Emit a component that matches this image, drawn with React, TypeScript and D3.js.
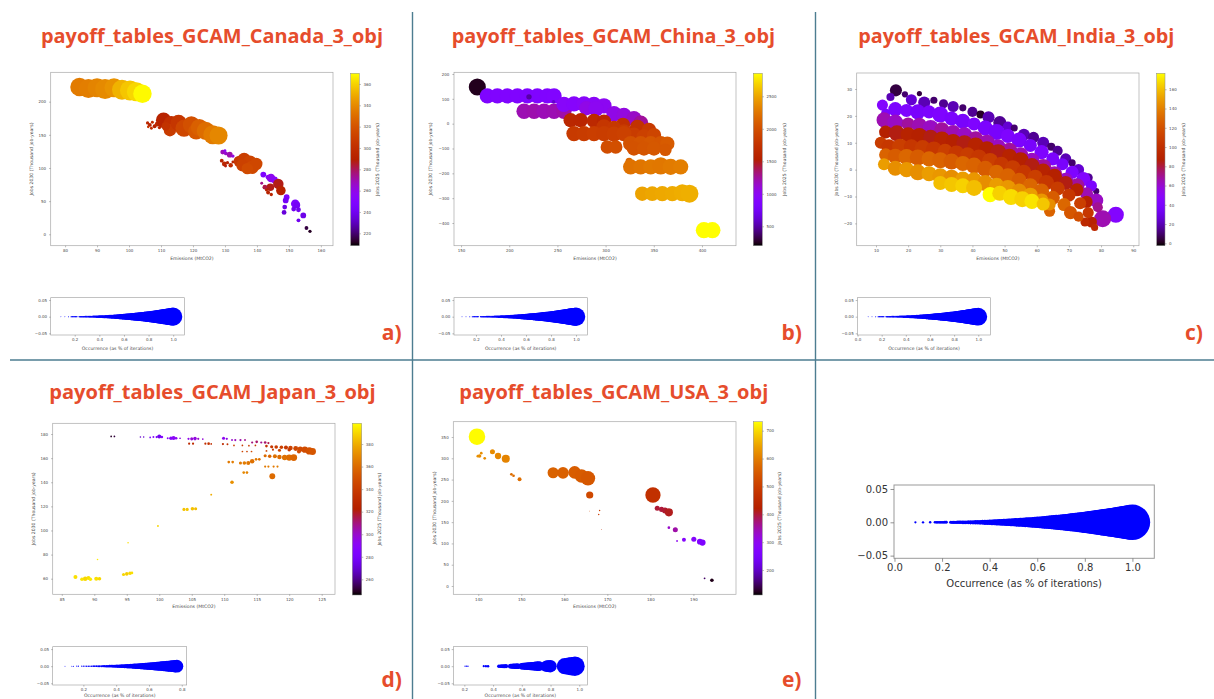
import React, { useEffect, useRef } from "react";
import * as d3 from "d3";

type Pt = [number, number, number, number]; // emissions, jobs2030, jobs2025, occurrence

const CANADA: Pt[] = [
  [84.5, 222, 335, 0.92], [87.3, 220, 336, 0.95], [90, 221, 338, 0.95], [92.5, 219, 340, 1.0],
  [95.3, 221, 343, 0.95], [97.8, 218, 352, 1.0], [100.3, 217, 357, 1.0], [102.3, 215, 361, 0.95],
  [104.2, 212, 369, 0.92],
  [105.8, 168, 295, 0.12], [106.5, 165, 292, 0.15], [107.3, 169, 298, 0.1], [108, 163, 290, 0.15],
  [108.8, 166, 296, 0.2], [107, 160, 300, 0.1], [109.5, 161, 293, 0.12], [106, 162, 305, 0.08],
  [110.8, 172, 292, 0.75], [113.2, 166, 300, 0.8], [112.8, 157, 308, 0.6], [115.5, 168, 305, 0.8],
  [117.2, 160, 314, 0.85], [119.5, 165, 318, 0.85], [121, 155, 322, 0.8], [122, 161, 325, 0.85],
  [124, 156, 330, 0.9], [126.2, 150, 335, 0.95], [128, 149, 339, 0.9], [111.5, 163, 302, 0.4],
  [129.3, 124, 268, 0.2], [130.3, 122, 265, 0.15], [131.5, 120, 270, 0.25], [132.5, 118, 262, 0.12],
  [130, 126, 258, 0.1], [129, 111, 292, 0.15], [129.8, 106, 295, 0.2], [130.8, 108, 290, 0.12],
  [131.8, 104, 298, 0.18], [132.5, 109, 292, 0.1], [130.2, 103, 288, 0.1],
  [134.5, 110, 306, 0.55], [136, 113, 309, 0.65], [137.8, 108, 312, 0.7], [135.5, 104, 311, 0.6],
  [138.5, 101, 315, 0.65], [139.8, 106, 314, 0.6], [137, 99, 316, 0.55],
  [142, 90, 248, 0.25], [143.5, 86, 252, 0.2], [144.4, 85, 258, 0.4], [145.5, 82, 255, 0.3],
  [146.7, 76, 287, 0.5], [147.5, 66, 292, 0.45], [144.2, 71, 287, 0.35], [142.5, 71, 282, 0.2],
  [143.5, 63, 292, 0.15], [144.5, 60, 294, 0.12], [141.5, 77, 275, 0.1], [143, 67, 290, 0.12],
  [149.3, 56, 247, 0.25], [149, 51, 242, 0.25], [152, 46, 246, 0.4], [152.5, 44, 242, 0.3],
  [148.7, 41, 238, 0.2], [151.5, 38, 240, 0.2], [153, 37, 240, 0.2], [148.5, 33, 235, 0.2],
  [154.5, 28.5, 238, 0.25], [153, 21, 240, 0.15], [155.5, 9.5, 215, 0.15], [156.6, 4.5, 212, 0.12],
];

const CHINA: Pt[] = [
  [166.9, 147.8, 250, 0.95],
  [177.3, 111.6, 860, 0.85], [187.7, 111.6, 870, 0.85], [198.1, 111.6, 865, 0.85], [208.5, 111.6, 870, 0.85],
  [218.8, 111.6, 860, 0.85], [229.2, 111.6, 875, 0.85], [239.5, 111.6, 870, 0.85], [246.5, 111.6, 880, 0.85],
  [215.4, 50, 1200, 0.85], [225.8, 50, 1210, 0.85], [236.1, 50, 1190, 0.85], [246.5, 50, 1200, 0.85],
  [256.8, 50, 1220, 0.85],
  [256.8, 78, 950, 0.85], [267.2, 80, 930, 0.85], [277.6, 80, 960, 0.85], [287.9, 78, 980, 0.85],
  [298.3, 72, 1000, 0.85], [280, 62, 1050, 0.8], [290, 60, 1000, 0.85],
  [308.7, 40, 1050, 0.85], [319, 33, 1080, 0.85], [329.4, 20, 1150, 0.85], [336.4, 2, 1250, 0.85],
  [220.5, 108, 500, 0.3], [246, 88, 600, 0.2],
  [263.8, 13.6, 1620, 0.8], [274.2, 13.6, 1610, 0.8], [288, 11, 1640, 0.8], [298.3, 8, 1600, 0.8],
  [318, -5, 1720, 0.8], [298.3, -13, 1780, 0.85], [308.7, -19.5, 1800, 0.85], [333, -15, 1740, 0.85],
  [319, -33, 1820, 0.85], [345, -25, 1820, 0.8], [329.4, -46, 1840, 0.85], [339.8, -53, 1880, 0.85],
  [350.2, -46, 1920, 0.8],
  [267.2, -40, 1820, 0.85], [277.6, -40, 1840, 0.85], [288, -40, 1860, 0.85], [298.3, -40, 1850, 0.85],
  [308.7, -42, 1870, 0.85], [319, -40, 1880, 0.85],
  [326, -80.5, 2020, 0.85], [336.4, -80.5, 2040, 0.85], [346.8, -80.5, 2060, 0.85], [357.2, -80.5, 2050, 0.85],
  [364, -80.5, 2080, 0.8],
  [301.8, -94, 1980, 0.75], [310.5, -94, 2000, 0.75],
  [329.4, -100, 2020, 0.8], [339.8, -100, 2040, 0.8], [350.2, -100, 2060, 0.8], [362, -105, 2060, 0.7],
  [324.4, -152, 2150, 0.4], [326, -174, 2230, 0.85], [336.4, -174, 2250, 0.85], [346.8, -174, 2270, 0.85],
  [357.2, -170, 2260, 0.95], [367.5, -174, 2280, 0.9], [377.9, -174, 2300, 0.85],
  [338, -282, 2480, 0.8], [348.4, -282, 2500, 0.82], [358.8, -282, 2510, 0.85], [369.2, -282, 2520, 0.85],
  [379.6, -278, 2530, 0.95], [387, -282, 2540, 1.0],
  [402, -429, 2850, 0.9], [410.8, -429, 2850, 0.9],
];

const INDIA: Pt[] = [
  [16.2, 29.5, 5, 0.55], [14.5, 27, 20, 0.35], [19, 28, 10, 0.25], [23.5, 28.3, 5, 0.2], [21, 26, 25, 0.5],
  [25, 25, 20, 0.55], [28, 25.8, 10, 0.3], [31, 24.5, 15, 0.4], [34, 23.5, 20, 0.5], [37, 23, 10, 0.3],
  [40, 21.5, 15, 0.45], [42.5, 20.5, 2, 0.35], [45, 19.5, 20, 0.55], [48.5, 17.5, 15, 0.6], [51, 16, 25, 0.45],
  [53, 15.5, 10, 0.3], [56, 13, 20, 0.55], [59, 12, 15, 0.5], [62, 10, 20, 0.55], [64.5, 8.5, 10, 0.35],
  [66.5, 7, 15, 0.45], [69, 4, 20, 0.5], [71, 2.5, 10, 0.3], [73, 0, 25, 0.5], [76, -3, 15, 0.4],
  [78.5, -8, 10, 0.25],
  [12, 24, 45, 0.5], [13, 21, 40, 0.4], [16, 22.5, 40, 0.65], [19.5, 22, 42, 0.6], [23, 21.5, 38, 0.7],
  [26.5, 21.5, 40, 0.6], [30, 20.5, 42, 0.75], [33.5, 19, 40, 0.65], [37, 18, 38, 0.7], [40.5, 17, 42, 0.6],
  [44, 15.5, 40, 0.7], [47.5, 14, 38, 0.75], [51, 12.5, 42, 0.65], [54.5, 11, 40, 0.7], [58, 9, 38, 0.6],
  [61.5, 6.5, 42, 0.65], [65, 4, 40, 0.6], [68, 2, 38, 0.55], [71, -1, 42, 0.6], [74.5, -3.5, 45, 0.65],
  [77, -6, 40, 0.5], [84.6, -16.8, 45, 0.75],
  [12.5, 18.5, 65, 0.7], [16, 17.5, 62, 0.75], [20, 17, 68, 0.6], [23.5, 16.5, 65, 0.7], [27, 15.5, 62, 0.75],
  [30.5, 14.8, 68, 0.7], [34, 13.8, 65, 0.7], [37.5, 12.8, 62, 0.75], [41, 11.5, 68, 0.7], [44.5, 10, 65, 0.75],
  [48, 8.5, 62, 0.7], [51.5, 7, 68, 0.75], [55, 5.5, 65, 0.7], [58.5, 3.5, 62, 0.7], [62, 1, 68, 0.75],
  [65.5, -1.5, 65, 0.7], [69, -4, 62, 0.7], [72.5, -6, 68, 0.7], [75.5, -9, 65, 0.6], [78.5, -11.5, 62, 0.65],
  [80.5, -18.3, 65, 0.8], [79, -14, 70, 0.45],
  [13, 14, 88, 0.6], [16.5, 13.5, 85, 0.75], [20, 13, 90, 0.7], [23.5, 12.5, 88, 0.75], [27, 12, 85, 0.7],
  [30.5, 11.2, 90, 0.75], [34, 10.5, 88, 0.7], [37.5, 9.8, 85, 0.75], [41, 9, 90, 0.75], [44.5, 7.8, 88, 0.7],
  [48, 6.5, 85, 0.75], [51.5, 5, 90, 0.7], [55, 3.5, 88, 0.75], [58.5, 1.5, 85, 0.7], [62, -0.5, 90, 0.7],
  [65.5, -2.5, 88, 0.7], [69, -5, 85, 0.65], [72.5, -7.5, 90, 0.6], [75.5, -12, 88, 0.55], [77, -19.5, 90, 0.5],
  [78, -21.5, 95, 0.3],
  [11.5, 10, 108, 0.55], [14, 8.5, 105, 0.7], [17.5, 8.5, 110, 0.75], [21, 8.5, 105, 0.7], [24.5, 8, 108, 0.75],
  [28, 7.5, 105, 0.75], [31.5, 6.8, 110, 0.7], [35, 6, 105, 0.75], [38.5, 5.5, 108, 0.7], [42, 4.5, 105, 0.75],
  [45.5, 3.2, 110, 0.75], [49, 2, 105, 0.7], [52.5, 0.5, 108, 0.75], [56, -1, 105, 0.7], [59.5, -2.8, 110, 0.7],
  [63, -4.8, 105, 0.7], [66.5, -7, 108, 0.65], [70, -9.5, 105, 0.6], [73.5, -12.5, 110, 0.55], [76, -16, 105, 0.5],
  [75, -19.5, 95, 0.4],
  [13, 5.5, 128, 0.6], [16, 5, 125, 0.7], [19.5, 4.7, 130, 0.75], [23, 4.5, 125, 0.75], [26.5, 4, 130, 0.7],
  [30, 3.5, 128, 0.75], [33.5, 3, 125, 0.75], [37, 2.3, 130, 0.7], [40.5, 1.5, 128, 0.75], [44, 0.3, 125, 0.75],
  [47.5, -1, 130, 0.7], [51, -2.5, 128, 0.75], [54.5, -4, 125, 0.7], [58, -6, 130, 0.7], [61.5, -8, 128, 0.7],
  [65, -10.5, 125, 0.65], [68.5, -13, 130, 0.6], [70.5, -16, 122, 0.6], [73, -17.5, 118, 0.45], [64, -15.5, 128, 0.5],
  [12.5, 2, 150, 0.55], [16, 0.5, 145, 0.7], [19.5, 0, 148, 0.7], [23, -1, 145, 0.75], [26.5, -1.5, 150, 0.7],
  [30, -2.5, 148, 0.75], [33.5, -3, 145, 0.75], [37, -3.5, 150, 0.7], [40.5, -4, 148, 0.75], [44, -5, 145, 0.75],
  [47.5, -5.8, 150, 0.7], [51, -6.8, 148, 0.75], [54.5, -8, 145, 0.7], [58, -9.5, 150, 0.7], [61.5, -11.5, 148, 0.65],
  [64, -13, 145, 0.55],
  [30, -5, 160, 0.65], [33.5, -5.5, 162, 0.7], [37, -6, 165, 0.7], [40.5, -6.8, 160, 0.75], [45.5, -9.3, 178, 0.7],
  [48.5, -8.8, 165, 0.7], [52, -10.2, 168, 0.75], [55.5, -11, 165, 0.75], [58.5, -11.8, 170, 0.7], [62, -12.8, 162, 0.6],
];

const JAPAN: Pt[] = [
  [92.6, 178, 250, 0.1], [93.1, 178, 252, 0.1], [97.1, 177.5, 268, 0.08], [97.6, 177.5, 270, 0.08],
  [98.6, 177.2, 282, 0.1], [99.1, 177.5, 285, 0.12], [99.6, 177.5, 280, 0.15], [100, 178, 275, 0.35],
  [100.4, 177.5, 285, 0.2], [101.3, 176.5, 290, 0.12], [101.8, 176.5, 288, 0.3], [102.2, 176.8, 290, 0.35],
  [102.6, 176.5, 292, 0.2], [103.2, 176.5, 295, 0.1], [104.5, 176, 294, 0.15], [105, 176, 298, 0.25],
  [105.5, 176.2, 296, 0.3], [106, 176, 300, 0.15], [106.7, 175.8, 298, 0.1],
  [104.6, 172, 328, 0.15], [105.2, 172, 330, 0.15], [107.1, 172, 333, 0.15], [107.6, 172, 335, 0.2],
  [108, 171.8, 332, 0.1], [109.9, 176.5, 292, 0.25], [110.4, 176, 295, 0.15], [111.2, 175, 300, 0.12],
  [111.7, 175, 302, 0.15], [112.5, 175, 305, 0.15], [113.2, 175, 308, 0.12], [114.3, 173, 310, 0.15],
  [115, 173.5, 312, 0.2], [115.7, 173, 308, 0.15], [116.3, 173, 312, 0.2], [116.8, 172.5, 315, 0.15],
  [109.8, 171.7, 330, 0.15], [110.5, 171.5, 332, 0.12], [111.5, 170.5, 340, 0.1], [112.8, 170.5, 340, 0.1],
  [113.8, 170.3, 342, 0.1], [114.8, 170.5, 338, 0.1],
  [116.5, 170, 335, 0.2], [117.3, 169.5, 338, 0.25], [118, 169.3, 340, 0.3], [118.8, 169, 342, 0.3],
  [119.5, 168.8, 338, 0.35], [120.2, 168.5, 343, 0.4], [121, 168, 345, 0.45], [121.7, 167.5, 347, 0.5],
  [122.4, 167, 348, 0.6], [123.1, 166, 350, 0.7], [123.6, 165.5, 352, 0.65], [120, 167, 338, 0.3],
  [117.5, 167, 340, 0.15], [116.5, 166, 345, 0.12], [118.5, 166.5, 344, 0.25], [121.5, 165.5, 348, 0.35],
  [116.3, 162, 360, 0.25], [117, 161.5, 358, 0.3], [117.8, 161.5, 362, 0.35], [118.5, 161, 360, 0.4],
  [119.3, 160.5, 362, 0.5], [120, 160.5, 360, 0.6], [120.7, 160.5, 358, 0.65],
  [112.8, 165.5, 345, 0.1], [113.5, 165.5, 342, 0.1], [114.2, 165.5, 348, 0.1],
  [110.7, 156.7, 365, 0.2], [111.3, 156.7, 366, 0.2], [112.5, 156, 365, 0.25], [113.1, 156, 366, 0.3],
  [113.7, 156, 364, 0.35], [114.3, 157.5, 362, 0.4], [114.9, 159, 365, 0.2], [115.4, 159, 362, 0.2],
  [116.3, 153, 365, 0.15], [116.8, 153, 366, 0.15], [117.6, 153, 365, 0.15], [118.2, 153, 366, 0.15],
  [113, 148, 370, 0.2], [113.5, 148, 368, 0.2], [117.4, 145, 360, 0.55], [111.2, 140, 372, 0.3],
  [108, 129.7, 380, 0.12], [103.8, 117.5, 385, 0.25], [104.3, 117.5, 386, 0.25], [105.1, 118, 385, 0.3],
  [105.6, 118, 384, 0.25], [99.8, 103.7, 390, 0.12], [95.2, 89.8, 392, 0.08], [90.5, 76, 395, 0.08],
  [94.5, 63.5, 390, 0.25], [95, 64, 388, 0.3], [95.5, 64.5, 390, 0.3], [95.8, 64.8, 392, 0.2],
  [87.1, 61.4, 392, 0.35], [88.1, 59.5, 393, 0.3], [88.6, 60, 390, 0.4], [89.1, 60.5, 392, 0.35],
  [89.4, 59.5, 394, 0.3], [90.3, 60, 392, 0.35], [90.8, 60, 390, 0.3],
];

const USA: Pt[] = [
  [139.7, 350.7, 730, 0.92],
  [140.3, 305.4, 620, 0.2], [140.7, 312, 622, 0.15], [141.5, 300, 618, 0.15], [139.9, 305, 625, 0.15],
  [143.3, 315.5, 620, 0.28], [144.6, 305.4, 615, 0.35], [146.4, 299, 608, 0.45],
  [147.7, 262.4, 580, 0.15], [148.2, 259, 578, 0.15], [149.6, 250.6, 580, 0.22],
  [157.4, 266, 562, 0.62], [159.7, 266, 560, 0.65], [162.4, 267, 555, 0.7], [164, 258.4, 552, 0.75],
  [165.5, 253, 545, 0.8], [165.9, 213.8, 520, 0.4],
  [165.9, 176, 520, 0.05], [168.2, 177.5, 500, 0.08], [168, 168, 495, 0.08], [168.6, 133, 450, 0.05],
  [180.6, 213.8, 468, 0.85],
  [181.6, 182.5, 400, 0.28], [182.6, 180, 398, 0.28], [183.4, 177.5, 402, 0.33], [184.3, 173, 410, 0.45],
  [184.3, 137, 330, 0.15], [185.8, 132.3, 350, 0.28], [186.2, 105.7, 300, 0.1], [187.8, 108.8, 280, 0.22],
  [190.1, 109.6, 280, 0.28], [191.5, 104, 268, 0.32], [192.1, 102, 265, 0.35],
  [192.6, 18, 150, 0.1], [194.3, 13.4, 120, 0.2],
];

const OCC_MAIN = [
  0.088, 0.12, 0.15, 0.17, 0.176, 0.182, 0.188, 0.194, 0.2, 0.206, 0.212, 0.218, 0.236, 0.242, 0.248,
  0.254, 0.26, 0.266, 0.272, 0.278, 0.285, 0.292, 0.3, 0.31, 0.32, 0.33, 0.34, 0.35, 0.36, 0.37, 0.38,
  0.39, 0.4, 0.41, 0.42, 0.43, 0.44, 0.45, 0.46, 0.47, 0.48, 0.49, 0.5, 0.51, 0.52, 0.53, 0.54, 0.55,
  0.56, 0.57, 0.58, 0.59, 0.6, 0.61, 0.62, 0.63, 0.64, 0.65, 0.66, 0.67, 0.68, 0.69, 0.7, 0.71, 0.72,
  0.73, 0.74, 0.75, 0.76, 0.77, 0.78, 0.79, 0.8, 0.81, 0.82, 0.83, 0.84, 0.85, 0.86, 0.87, 0.88, 0.89,
  0.9, 0.91, 0.92, 0.93, 0.94, 0.95, 0.96, 0.97, 0.98, 0.99, 1.0,
];
const OCC_JAPAN = [
  0.088, 0.13, 0.14, 0.16, 0.17, 0.19, 0.2, 0.21, 0.22, 0.23, 0.24, 0.25, 0.26, 0.27, 0.28, 0.29, 0.3,
  0.31, 0.32, 0.33, 0.34, 0.35, 0.36, 0.37, 0.38, 0.39, 0.4, 0.41, 0.42, 0.43, 0.44, 0.45, 0.46, 0.47,
  0.48, 0.49, 0.5, 0.51, 0.52, 0.53, 0.54, 0.55, 0.56, 0.57, 0.58, 0.59, 0.6, 0.61, 0.62, 0.63, 0.64,
  0.65, 0.66, 0.67, 0.68, 0.69, 0.7, 0.71, 0.72, 0.73, 0.74, 0.75, 0.76, 0.77,
];
const OCC_USA = [
  0.205, 0.215, 0.225, 0.335, 0.35, 0.365, 0.44, 0.45, 0.46, 0.47, 0.48, 0.49, 0.52, 0.53, 0.54, 0.55,
  0.56, 0.57, 0.6, 0.61, 0.62, 0.63, 0.64, 0.65, 0.66, 0.67, 0.68, 0.69, 0.7, 0.71, 0.72, 0.77, 0.78,
  0.79, 0.8, 0.9, 0.93, 0.95, 0.97,
];

const TITLES = [
  "payoff_tables_GCAM_Canada_3_obj", "payoff_tables_GCAM_China_3_obj", "payoff_tables_GCAM_India_3_obj",
  "payoff_tables_GCAM_Japan_3_obj", "payoff_tables_GCAM_USA_3_obj",
];
const PANEL_LABELS = ["a)", "b)", "c)", "d)", "e)"];

const X_TICKS_CANADA = [80, 90, 100, 110, 120, 130, 140, 150, 160];
const Y_TICKS_CANADA = [0, 50, 100, 150, 200];
const C_TICKS_CANADA = [220, 240, 260, 280, 300, 320, 340, 360];
const X_TICKS_CHINA = [150, 200, 250, 300, 350, 400];
const Y_TICKS_CHINA = [-400, -300, -200, -100, 0, 100, 200];
const C_TICKS_CHINA = [500, 1000, 1500, 2000, 2500];
const X_TICKS_INDIA = [10, 20, 30, 40, 50, 60, 70, 80, 90];
const Y_TICKS_INDIA = [-20, -10, 0, 10, 20, 30];
const C_TICKS_INDIA = [0, 20, 40, 60, 80, 100, 120, 140, 160];
const X_TICKS_JAPAN = [85, 90, 95, 100, 105, 110, 115, 120, 125];
const Y_TICKS_JAPAN = [60, 80, 100, 120, 140, 160, 180];
const C_TICKS_JAPAN = [260, 280, 300, 320, 340, 360, 380];
const X_TICKS_USA = [140, 150, 160, 170, 180, 190];
const Y_TICKS_USA = [0, 50, 100, 150, 200, 250, 300, 350];
const C_TICKS_USA = [200, 300, 400, 500, 600, 700];
const OCC_TICKS_FULL = [0.0, 0.2, 0.4, 0.6, 0.8, 1.0];
const OCC_TICKS = [0.2, 0.4, 0.6, 0.8, 1.0];
const OCC_TICKS_JAPAN = [0.2, 0.4, 0.6, 0.8];
const OCC_Y_TICKS = [-0.05, 0.0, 0.05];

const X_LABEL = "Emissions (MtCO2)";
const Y_LABEL = "Jobs 2030 (Thousand job-years)";
const C_LABEL = "Jobs 2025 (Thousand job-years)";
const OCC_LABEL = "Occurrence (as % of iterations)";

const RED = "#e64d2c";
const SEP = "#4d7d90";
const TICK_FONT = "DejaVu Sans, sans-serif";

function gnuplot(t: number) {
  const u = Math.max(0, Math.min(1, t));
  const r = Math.sqrt(u);
  const g = u * u * u;
  const b = Math.max(0, Math.sin(2 * Math.PI * u));
  return d3.rgb(r * 255, g * 255, b * 255).formatHex();
}

const PANELS = [
  {
    data: CANADA, occ: OCC_MAIN, plot: [50.7, 72.3, 333, 245.7], xDom: [75.5, 163.8], yDom: [-17.2, 244.3],
    xt: X_TICKS_CANADA, yt: Y_TICKS_CANADA, cbar: [350.7, 73.3, 359.3, 245.7], cDom: [208.4, 370], ct: C_TICKS_CANADA,
    rMin: 0.5, rMax: 10, mini: [50.7, 297.7, 184.3, 335], miniDom: [0.005, 1.09], mt: OCC_TICKS, occLab: 15,
    title: [41, 383, 43.3], lab: [391.7, 340], ylabOff: 19, cbOff: 18.4,
  },
  {
    data: CHINA, occ: OCC_MAIN, plot: [454, 72.3, 736, 245.7], xDom: [142.7, 435.3], yDom: [-491.4, 206.8],
    xt: X_TICKS_CHINA, yt: Y_TICKS_CHINA, cbar: [753.3, 73.3, 762.3, 245.7], cDom: [201.5, 2854], ct: C_TICKS_CHINA,
    rMin: 0, rMax: 9, mini: [454, 297.7, 587.3, 335], miniDom: [0.024, 1.09], mt: OCC_TICKS, occLab: 15,
    title: [451.7, 775, 43.3], lab: [791.7, 340], ylabOff: 23, cbOff: 22,
  },
  {
    data: INDIA, occ: OCC_MAIN, plot: [856.7, 73, 1139, 245.7], xDom: [4.0, 91.8], yDom: [-28.3, 35.95],
    xt: X_TICKS_INDIA, yt: Y_TICKS_INDIA, cbar: [1156.7, 73.3, 1165, 245.7], cDom: [-2.5, 176.6], ct: C_TICKS_INDIA,
    rMin: 0.6, rMax: 10.5, mini: [857.3, 297.7, 990.7, 335], miniDom: [-0.002, 1.103], mt: OCC_TICKS_FULL, occLab: 15,
    title: [858.3, 1174.3, 43.3], lab: [1194, 340], ylabOff: 20, cbOff: 18.3,
  },
  {
    data: JAPAN, occ: OCC_JAPAN, plot: [52.7, 423.3, 335, 594.3], xDom: [83.6, 127.05], yDom: [47.06, 188.9],
    xt: X_TICKS_JAPAN, yt: Y_TICKS_JAPAN, cbar: [352.3, 423.3, 361.7, 595], cDom: [246.1, 398.4], ct: C_TICKS_JAPAN,
    rMin: 0.4, rMax: 5, mini: [52.7, 646.7, 186.7, 685], miniDom: [0.013, 0.83], mt: OCC_TICKS_JAPAN, occLab: 11.6,
    title: [49.3, 375.7, 399.3], lab: [391.7, 686.5], ylabOff: 19.4, cbOff: 17.6,
  },
  {
    data: USA, occ: OCC_USA, plot: [453.3, 421.7, 736, 594.3], xDom: [134.2, 199.9], yDom: [-19.5, 386],
    xt: X_TICKS_USA, yt: Y_TICKS_USA, cbar: [753.3, 421.7, 762.3, 595], cDom: [110.3, 732.3], ct: C_TICKS_USA,
    rMin: 0, rMax: 9, mini: [453.3, 646.7, 587.3, 685], miniDom: [0.123, 1.056], mt: OCC_TICKS, occLab: 11.6,
    title: [459.3, 768.3, 399.3], lab: [791.7, 686.5], ylabOff: 19, cbOff: 17.7,
  },
];

const BIG = { box: [894, 485, 1154.3, 558.3], xDom: [-0.002, 1.092], yDom: [-0.054, 0.056] };

type Sel = d3.Selection<any, any, any, any>;

function styleAxis(g: Sel, fs: number, color = "#4a4a4a") {
  g.select(".domain").remove();
  g.selectAll("text").attr("font-size", fs).attr("fill", color).attr("font-family", TICK_FONT);
  g.selectAll("line").attr("stroke", "#777").attr("stroke-width", fs > 6 ? 0.8 : 0.5);
}

function drawOcc(root: Sel, box: number[], xDom: number[], yDom: number[], occ: number[], xt: number[],
  fs: number, tick: number, pad: number, minR: number, labOff: number, labFs: number, idx: string) {
  const [x0, y0, x1, y1] = box;
  const x = d3.scaleLinear(xDom, [x0, x1]);
  const y = d3.scaleLinear(yDom, [y1, y0]);
  const ppu = x(1) - x(0);
  const rad = (o: number) => minR + 0.07 * Math.pow(o, 2.5) * ppu;
  root.append("clipPath").attr("id", "oc" + idx).append("rect")
    .attr("x", x0).attr("y", y0).attr("width", x1 - x0).attr("height", y1 - y0);
  root.append("rect").attr("x", x0).attr("y", y0).attr("width", x1 - x0).attr("height", y1 - y0).attr("fill", "#fff");
  root.append("g").attr("clip-path", `url(#oc${idx})`).selectAll("circle").data(occ).join("circle")
    .attr("cx", (d) => x(d)).attr("cy", y(0)).attr("r", (d) => rad(d)).attr("fill", "#0000ff");
  root.append("rect").attr("x", x0).attr("y", y0).attr("width", x1 - x0).attr("height", y1 - y0)
    .attr("fill", "none").attr("stroke", "#9a9a9a").attr("stroke-width", fs > 6 ? 1 : 0.6);
  const col = fs > 6 ? "#333" : "#4a4a4a";
  const gx = root.append("g").attr("transform", `translate(0,${y1})`)
    .call(d3.axisBottom(x).tickValues(xt).tickFormat(d3.format(".1f")).tickSize(tick).tickPadding(pad));
  styleAxis(gx, fs, col);
  const gy = root.append("g").attr("transform", `translate(${x0},0)`)
    .call(d3.axisLeft(y).tickValues(OCC_Y_TICKS).tickFormat(d3.format(".2f")).tickSize(tick).tickPadding(pad));
  styleAxis(gy, fs, col);
  root.append("text").attr("x", (x0 + x1) / 2).attr("y", y1 + labOff).attr("text-anchor", "middle")
    .attr("font-size", labFs).attr("font-family", TICK_FONT).attr("fill", col).text(OCC_LABEL);
}

function drawPanel(root: Sel, p: any, i: number) {
  const [x0, y0, x1, y1] = p.plot;
  const x = d3.scaleLinear(p.xDom, [x0, x1]);
  const y = d3.scaleLinear(p.yDom, [y1, y0]);
  const cs = d3.scaleLinear(p.cDom, [0, 1]).clamp(true);
  const r = d3.scaleLinear([0, 1], [p.rMin, p.rMax]);
  root.append("clipPath").attr("id", "pc" + i).append("rect")
    .attr("x", x0).attr("y", y0).attr("width", x1 - x0).attr("height", y1 - y0);
  root.append("g").attr("clip-path", `url(#pc${i})`).selectAll("circle").data(p.data as Pt[]).join("circle")
    .attr("cx", (d) => x(d[0])).attr("cy", (d) => y(d[1])).attr("r", (d) => r(d[3]))
    .attr("fill", (d) => gnuplot(cs(d[2])));
  root.append("rect").attr("x", x0).attr("y", y0).attr("width", x1 - x0).attr("height", y1 - y0)
    .attr("fill", "none").attr("stroke", "#a8a8a8").attr("stroke-width", 0.7);

  const gx = root.append("g").attr("transform", `translate(0,${y1})`)
    .call(d3.axisBottom(x).tickValues(p.xt).tickFormat(d3.format("d")).tickSize(1.6).tickPadding(2.2));
  styleAxis(gx, 4);
  const gy = root.append("g").attr("transform", `translate(${x0},0)`)
    .call(d3.axisLeft(y).tickValues(p.yt).tickFormat(d3.format("d")).tickSize(1.6).tickPadding(3));
  styleAxis(gy, 4);
  root.append("text").attr("x", (x0 + x1) / 2).attr("y", y1 + 14).attr("text-anchor", "middle")
    .attr("font-size", 4.6).attr("font-family", TICK_FONT).attr("fill", "#4a4a4a").text(X_LABEL);
  root.append("text").attr("transform", `translate(${x0 - p.ylabOff},${(y0 + y1) / 2}) rotate(-90)`)
    .attr("text-anchor", "middle").attr("dominant-baseline", "middle")
    .attr("font-size", 4.6).attr("font-family", TICK_FONT).attr("fill", "#4a4a4a").text(Y_LABEL);

  // colorbar
  const [cx0, cy0, cx1, cy1] = p.cbar;
  const gid = "grad" + i;
  const grad = root.append("defs").append("linearGradient").attr("id", gid)
    .attr("x1", 0).attr("y1", 1).attr("x2", 0).attr("y2", 0);
  d3.range(0, 1.0001, 0.02).forEach((t) => {
    grad.append("stop").attr("offset", t).attr("stop-color", gnuplot(t));
  });
  root.append("rect").attr("x", cx0).attr("y", cy0).attr("width", cx1 - cx0).attr("height", cy1 - cy0)
    .attr("fill", `url(#${gid})`).attr("stroke", "#888").attr("stroke-width", 0.5);
  const cy = d3.scaleLinear(p.cDom, [cy1, cy0]);
  const gc = root.append("g").attr("transform", `translate(${cx1},0)`)
    .call(d3.axisRight(cy).tickValues(p.ct).tickFormat(d3.format("d")).tickSize(1.6).tickPadding(2.5));
  styleAxis(gc, 4);
  root.append("text").attr("transform", `translate(${cx1 + p.cbOff},${(cy0 + cy1) / 2}) rotate(-90)`)
    .attr("text-anchor", "middle").attr("dominant-baseline", "middle")
    .attr("font-size", 4.6).attr("font-family", TICK_FONT).attr("fill", "#4a4a4a").text(C_LABEL);

  // occurrence legend
  drawOcc(root, p.mini, p.miniDom, [-0.055, 0.057], p.occ, p.mt, 4, 1.6, 2, 0.45, p.occLab, 4.6, String(i));

  // title and label
  const [tx0, tx1, ty] = p.title;
  root.append("text").attr("x", tx0).attr("y", ty).attr("textLength", tx1 - tx0).attr("lengthAdjust", "spacingAndGlyphs")
    .attr("font-size", 20).attr("font-weight", 700).attr("font-family", "Open Sans, sans-serif")
    .attr("fill", RED).text(TITLES[i]);
  root.append("text").attr("x", p.lab[0]).attr("y", p.lab[1]).attr("text-anchor", "middle")
    .attr("font-size", 21).attr("font-weight", 700).attr("font-family", "Open Sans, sans-serif")
    .attr("fill", RED).text(PANEL_LABELS[i]);
}

export default function App() {
  const ref = useRef<SVGSVGElement>(null);
  useEffect(() => {
    const svg = d3.select(ref.current);
    svg.selectAll("*").remove();
    svg.append("rect").attr("width", 1214).attr("height", 699).attr("fill", "#fff");
    PANELS.forEach((p, i) => drawPanel(svg, p, i));
    drawOcc(svg, BIG.box, BIG.xDom, BIG.yDom, OCC_MAIN, OCC_TICKS_FULL, 10, 3.5, 2.5, 1.1, 29, 10, "big");
    // separators
    svg.append("line").attr("x1", 412.5).attr("x2", 412.5).attr("y1", 12).attr("y2", 699)
      .attr("stroke", SEP).attr("stroke-width", 1.4);
    svg.append("line").attr("x1", 815.5).attr("x2", 815.5).attr("y1", 12).attr("y2", 699)
      .attr("stroke", SEP).attr("stroke-width", 1.4);
    svg.append("line").attr("x1", 10).attr("x2", 1214).attr("y1", 360).attr("y2", 360)
      .attr("stroke", SEP).attr("stroke-width", 1.4);
  }, []);
  return (
    <svg ref={ref} width={1214} height={699}
      style={{ position: "absolute", left: 0, top: 0, display: "block", background: "#fff" }} />
  );
}
